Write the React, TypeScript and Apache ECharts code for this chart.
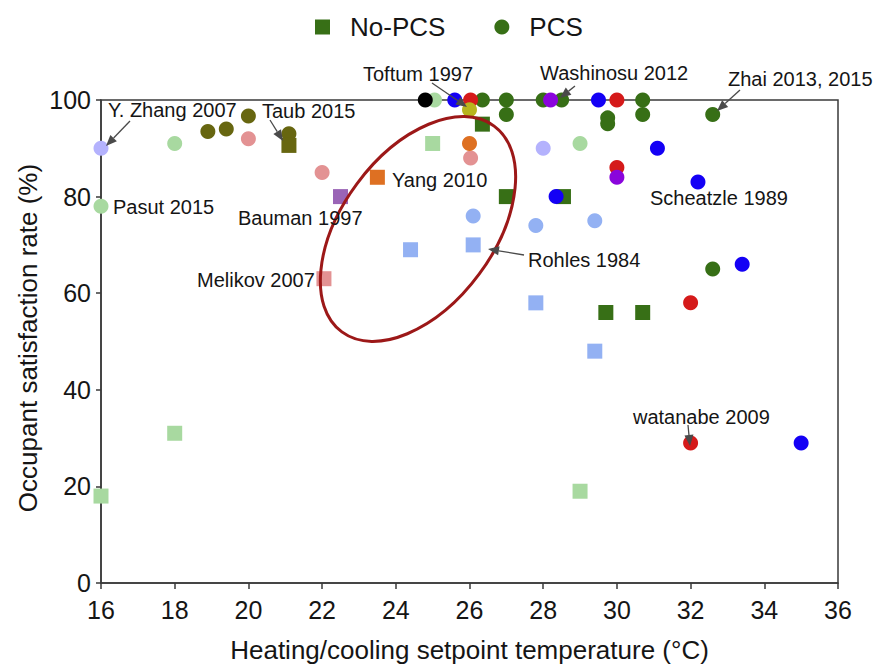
import React, { useEffect, useRef } from "react";
import * as echarts from "echarts";

// Axis ranges
const X_MIN = 16;
const X_MAX = 36;
const X_STEP = 2;
const Y_MIN = 0;
const Y_MAX = 100;
const Y_STEP = 20;

// Data groups [temperature °C, satisfaction %]
const pcsDarkGreen = [
  [26.35, 100], [27, 100], [27, 97], [28, 100], [28.5, 100], [29.75, 96.3], [29.75, 95.1],
  [30.7, 100], [30.7, 97], [32.6, 97], [32.6, 65],
];
const noPcsDarkGreen = [[26.35, 95], [27, 80], [28.55, 80], [29.7, 56], [30.7, 56]];
const lightGreenCircles = [[16, 78], [18, 91], [25.05, 100], [29, 91]];
const lightGreenSquares = [[16, 18], [18, 31], [25, 91], [29, 19]];
const oliveCircles = [[18.9, 93.5], [19.4, 94], [20, 96.7], [21.1, 93]];
const oliveSquares = [[21.1, 90.6]];
const pinkCircles = [[20, 92], [22, 85], [26.03, 88]];
const pinkSquares = [[22.05, 63]];
const lavenderCircles = [[16, 90], [28, 90]];
const lightBlueCircles = [[26.1, 76], [27.8, 74], [29.4, 75]];
const lightBlueSquares = [[24.4, 69], [26.1, 70], [27.8, 58], [29.4, 48]];
const blueCircles = [[25.6, 100], [29.5, 100], [31.1, 90], [28.35, 80], [32.2, 83], [33.4, 66], [35, 29]];
const redCircles = [[26.03, 100], [30, 100], [30, 86], [32, 58], [32, 29]];
const purpleCircles = [[28.2, 100], [30, 84]];
const orangeCircles = [[26, 91]];
const orangeSquares = [[23.5, 84]];
const mauveSquares = [[22.5, 80]];
const blackCircles = [[24.8, 100]];
const yellowCircles = [[26, 98]];

const legendNames = ["No-PCS", "PCS"];

const groups = [
  { name: "PCS", symbol: "circle", color: "#376f16", data: pcsDarkGreen },
  { name: "No-PCS", symbol: "rect", color: "#376f16", data: noPcsDarkGreen },
  { name: "lg-c", symbol: "circle", color: "#a8d9a0", data: lightGreenCircles },
  { name: "lg-s", symbol: "rect", color: "#a8d9a0", data: lightGreenSquares },
  { name: "ol-c", symbol: "circle", color: "#676610", data: oliveCircles },
  { name: "ol-s", symbol: "rect", color: "#676610", data: oliveSquares },
  { name: "pk-c", symbol: "circle", color: "#e39293", data: pinkCircles },
  { name: "pk-s", symbol: "rect", color: "#e39293", data: pinkSquares },
  { name: "lv-c", symbol: "circle", color: "#b4b2fd", data: lavenderCircles },
  { name: "lb-c", symbol: "circle", color: "#93b1f3", data: lightBlueCircles },
  { name: "lb-s", symbol: "rect", color: "#93b1f3", data: lightBlueSquares },
  { name: "bl-c", symbol: "circle", color: "#1400f5", data: blueCircles },
  { name: "rd-c", symbol: "circle", color: "#d51a1a", data: redCircles },
  { name: "pu-c", symbol: "circle", color: "#8a05dc", data: purpleCircles },
  { name: "or-c", symbol: "circle", color: "#de7022", data: orangeCircles },
  { name: "or-s", symbol: "rect", color: "#de7022", data: orangeSquares },
  { name: "mv-s", symbol: "rect", color: "#9a64b6", data: mauveSquares },
  { name: "bk-c", symbol: "circle", color: "#000000", data: blackCircles },
  { name: "yl-c", symbol: "circle", color: "#b7b51e", data: yellowCircles },
];

const FONT = "'Liberation Sans', Arial, Helvetica, sans-serif";
const TXT = "#151515";

const annotations: [string, number, number][] = [
  ["Y. Zhang 2007", 108, 110],
  ["Taub 2015", 262, 111],
  ["Pasut 2015", 113, 207],
  ["Toftum 1997", 363, 74],
  ["Washinosu 2012", 540, 73],
  ["Zhai 2013, 2015", 728, 79],
  ["Yang 2010", 392, 180],
  ["Bauman 1997", 238, 218],
  ["Melikov 2007", 197, 280],
  ["Rohles 1984", 528, 260],
  ["Scheatzle 1989", 650, 198],
  ["watanabe 2009", 633, 417],
];

const arrows: [number, number, number, number][] = [
  [130, 121, 106, 146],
  [270, 120, 283, 141],
  [432, 83, 467, 107],
  [575, 86, 560, 98],
  [740, 90, 717, 111],
  [524, 255, 488, 249],
  [688, 425, 690, 446],
];

function arrowEls(x1: number, y1: number, x2: number, y2: number) {
  const dx = x2 - x1;
  const dy = y2 - y1;
  const len = Math.sqrt(dx * dx + dy * dy);
  const ux = dx / len;
  const uy = dy / len;
  const hl = 11;
  const hw = 4.5;
  const bx = x2 - ux * hl;
  const by = y2 - uy * hl;
  return [
    {
      type: "line",
      shape: { x1, y1, x2: bx, y2: by },
      style: { stroke: "#4a4a4a", lineWidth: 1.3 },
      z: 100,
    },
    {
      type: "polygon",
      shape: {
        points: [
          [x2, y2],
          [bx - uy * hw, by + ux * hw],
          [bx + uy * hw, by - ux * hw],
        ],
      },
      style: { fill: "#4a4a4a" },
      z: 100,
    },
  ];
}

export default function App() {
  const ref = useRef<HTMLDivElement>(null);

  useEffect(() => {
    if (!ref.current) return;
    const chart = echarts.init(ref.current, null, { renderer: "svg" });

    const graphic: any[] = [];
    graphic.push({
      type: "ellipse",
      x: 418,
      y: 229,
      rotation: (53.5 * Math.PI) / 180,
      shape: { cx: 0, cy: 0, rx: 128, ry: 76 },
      style: { fill: "none", stroke: "#9c1818", lineWidth: 3 },
      z: 90,
    });
    annotations.forEach(([text, x, y]) => {
      graphic.push({
        type: "text",
        x,
        y,
        z: 100,
        style: {
          text,
          fill: TXT,
          fontSize: 20,
          fontFamily: FONT,
          textAlign: "left",
          align: "left",
          textVerticalAlign: "middle",
          verticalAlign: "middle",
        },
      });
    });
    arrows.forEach(([a, b, c, d]) => graphic.push(...arrowEls(a, b, c, d)));
    graphic.push({
      type: "text",
      x: 28,
      y: 338,
      rotation: Math.PI / 2,
      style: {
        text: "Occupant satisfaction rate (%)",
        fill: TXT,
        fontSize: 26,
        fontFamily: FONT,
        textAlign: "center",
        align: "center",
        textVerticalAlign: "middle",
        verticalAlign: "middle",
      },
    });

    chart.setOption({
      animation: false,
      backgroundColor: "#ffffff",
      textStyle: { fontFamily: FONT },
      grid: {
        left: 101,
        right: 37,
        top: 100,
        bottom: 78,
        show: true,
        borderColor: "#3a3a3a",
        borderWidth: 1.5,
        backgroundColor: "transparent",
      },
      legend: {
        data: legendNames,
        left: 315,
        top: 14,
        padding: 0,
        itemWidth: 15,
        itemHeight: 15,
        itemGap: 49,
        textStyle: {
          fontSize: 26,
          color: TXT,
          fontFamily: FONT,
          padding: [0, 0, 0, 15],
        },
      },
      xAxis: {
        type: "value",
        min: X_MIN,
        max: X_MAX,
        interval: X_STEP,
        name: "Heating/cooling setpoint temperature (°C)",
        nameLocation: "middle",
        nameGap: 54,
        nameTextStyle: { fontSize: 26, color: TXT, fontFamily: FONT },
        splitLine: { show: false },
        axisLine: { show: true, lineStyle: { color: "#3a3a3a", width: 1.5 } },
        axisTick: { show: true, length: 6, lineStyle: { color: "#3a3a3a", width: 1.5 } },
        axisLabel: { fontSize: 25, color: TXT, margin: 14, fontFamily: FONT },
      },
      yAxis: {
        type: "value",
        min: Y_MIN,
        max: Y_MAX,
        interval: Y_STEP,
        splitLine: { show: false },
        axisLine: { show: true, lineStyle: { color: "#3a3a3a", width: 1.5 } },
        axisTick: { show: true, length: 5, lineStyle: { color: "#3a3a3a", width: 1.5 } },
        axisLabel: { fontSize: 25, color: TXT, margin: 10, fontFamily: FONT },
      },
      series: groups.map((g) => ({
        name: g.name,
        type: "scatter",
        symbol: g.symbol,
        symbolSize: 15,
        clip: false,
        itemStyle: { color: g.color, opacity: 1 },
        emphasis: { disabled: true },
        data: g.data,
      })),
      graphic,
    });

    return () => chart.dispose();
  }, []);

  return (
    <div
      ref={ref}
      style={{ position: "fixed", left: 0, top: 0, width: 875, height: 668 }}
    />
  );
}
